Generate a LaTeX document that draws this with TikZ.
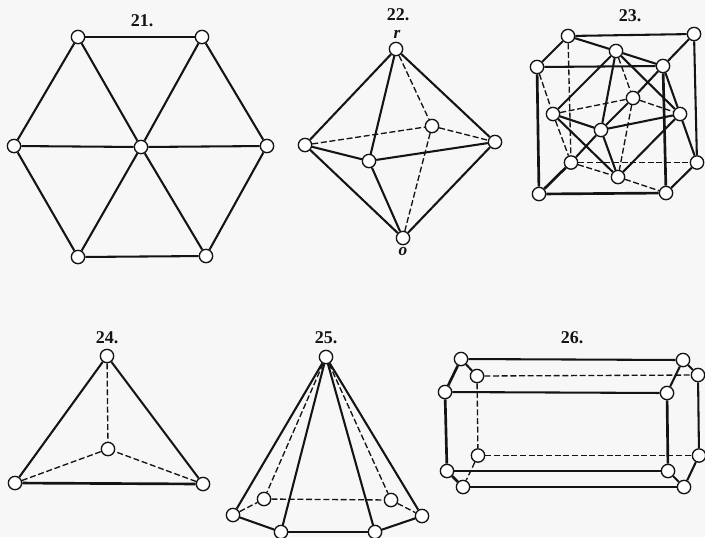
\documentclass[tikz,border=0pt]{standalone}
\usepackage{fontspec}
\usepackage{xcolor}
\usepackage{tikz}
\setmainfont{Liberation Serif}
\definecolor{paperwhite}{HTML}{F7F7F7}
\definecolor{inkdark}{HTML}{141414}

\begin{document}
\begin{tikzpicture}[
  x=0.75pt,y=-0.75pt,
  vertex/.style={circle,draw=inkdark,line width=1pt,fill=white,inner sep=0pt,minimum size=10pt},
  figlabel/.style={font=\fontsize{13.5}{15}\selectfont\bfseries,text=inkdark,inner sep=0pt},
  letterlabel/.style={font=\fontsize{13}{14}\selectfont\itshape\bfseries,text=inkdark,inner sep=0pt},
  edge/.style={line width=1.55pt,draw=inkdark},
  thickedge/.style={line width=2pt,draw=inkdark},
  hidden/.style={line width=1pt,draw=inkdark,dash pattern=on 4.5pt off 2pt}
]
\fill[paperwhite] (0,0) rectangle (705,537);
\useasboundingbox (0,0) rectangle (705,537);

% figure 21
\node[figlabel] (label21) at (142,21) {21.};
\node[vertex] (hextl) at (78,37) {};
\node[vertex] (hextr) at (202,37) {};
\node[vertex] (hexl) at (14,146) {};
\node[vertex] (hexc) at (141,147) {};
\node[vertex] (hexr) at (267,146) {};
\node[vertex] (hexbl) at (78,257) {};
\node[vertex] (hexbr) at (206,256) {};
\draw[edge] (hextl) -- (hextr);
\draw[edge] (hextr) -- (hexr);
\draw[edge] (hexr) -- (hexbr);
\draw[edge] (hexbr) -- (hexbl);
\draw[edge] (hexbl) -- (hexl);
\draw[edge] (hexl) -- (hextl);
\draw[edge] (hexc) -- (hextl);
\draw[edge] (hexc) -- (hextr);
\draw[edge] (hexc) -- (hexl);
\draw[edge] (hexc) -- (hexr);
\draw[edge] (hexc) -- (hexbl);
\draw[edge] (hexc) -- (hexbr);

% figure 22
\node[figlabel] (label22) at (398,15) {22.};
\node[letterlabel] (labelr) at (397,34) {r};
\node[letterlabel] (labelo) at (403,251) {o};
\node[vertex] (octr) at (396,49) {};
\node[vertex] (octl) at (305,145) {};
\node[vertex] (octe) at (495,142) {};
\node[vertex] (octf) at (369,161) {};
\node[vertex] (octb) at (432,126) {};
\node[vertex] (octo) at (403,238) {};
\draw[edge] (octr) -- (octl);
\draw[edge] (octr) -- (octe);
\draw[edge] (octr) -- (octf);
\draw[edge] (octl) -- (octf);
\draw[edge] (octf) -- (octe);
\draw[edge] (octl) -- (octo);
\draw[edge] (octf) -- (octo);
\draw[edge] (octe) -- (octo);
\draw[hidden] (octr) -- (octb);
\draw[hidden] (octl) -- (octb);
\draw[hidden] (octb) -- (octe);
\draw[hidden] (octb) -- (octo);

% figure 23
\node[figlabel] (label23) at (630,16) {23.};
\node[vertex] (cubeA) at (568,36) {};
\node[vertex] (cubeB) at (694,34) {};
\node[vertex] (cubeC) at (537,67) {};
\node[vertex] (cubeD) at (663,66) {};
\node[vertex] (cubeE) at (616,51) {};
\node[vertex] (cubeF) at (539,194) {};
\node[vertex] (cubeG) at (666,193) {};
\node[vertex] (cubeH) at (571,162.5) {};
\node[vertex] (cubeI) at (697,162.5) {};
\node[vertex] (cubeJ) at (618,177) {};
\node[vertex] (cubeK) at (553,114) {};
\node[vertex] (cubeL) at (680,114) {};
\node[vertex] (cubeM) at (601,130) {};
\node[vertex] (cubeN) at (633,98) {};
\draw[edge] (cubeA) -- (cubeB);
\draw[edge] (cubeA) -- (cubeC);
\draw[edge] (cubeC) -- (cubeD);
\draw[edge] (cubeD) -- (cubeB);
\draw[edge] (cubeB) -- (cubeI);
\draw[edge] (cubeG) -- (cubeI);
\draw[thickedge] (cubeC) -- (cubeF);
\draw[thickedge] (cubeD) -- (cubeG);
\draw[thickedge] (cubeF) -- (cubeG);
\draw[thickedge] (cubeF) -- (cubeH);
\draw[edge] (cubeH) -- (cubeM);
\draw[edge] (cubeM) -- (cubeN);
\draw[edge] (cubeN) -- (cubeD);
\draw[edge] (cubeA) -- (cubeE);
\draw[edge] (cubeE) -- (cubeD);
\draw[edge] (cubeD) -- (cubeL);
\draw[edge] (cubeL) -- (cubeI);
\draw[edge] (cubeE) -- (cubeK);
\draw[edge] (cubeE) -- (cubeL);
\draw[edge] (cubeE) -- (cubeM);
\draw[edge] (cubeK) -- (cubeM);
\draw[edge] (cubeM) -- (cubeL);
\draw[edge] (cubeK) -- (cubeJ);
\draw[edge] (cubeM) -- (cubeJ);
\draw[edge] (cubeL) -- (cubeJ);
\draw[hidden] (cubeA) -- (cubeH);
\draw[hidden] (cubeH) -- (cubeI);
\draw[hidden] (cubeH) -- (cubeJ);
\draw[hidden] (cubeJ) -- (cubeG);
\draw[hidden] (cubeC) -- (cubeK);
\draw[hidden] (cubeK) -- (cubeH);
\draw[hidden] (cubeE) -- (cubeN);
\draw[hidden] (cubeK) -- (cubeN);
\draw[hidden] (cubeN) -- (cubeL);
\draw[hidden] (cubeN) -- (cubeJ);

% figure 24
\node[figlabel] (label24) at (107,338) {24.};
\node[vertex] (tetrat) at (107,356) {};
\node[vertex] (tetral) at (15,483) {};
\node[vertex] (tetrar) at (203,484) {};
\node[vertex] (tetrac) at (108,449) {};
\draw[edge] (tetrat) -- (tetral);
\draw[edge] (tetrat) -- (tetrar);
\draw[thickedge] (tetral) -- (tetrar);
\draw[hidden] (tetrat) -- (tetrac);
\draw[hidden] (tetral) -- (tetrac);
\draw[hidden] (tetrar) -- (tetrac);

% figure 25
\node[figlabel] (label25) at (326,338) {25.};
\node[vertex] (pyrtop) at (326,357) {};
\node[vertex] (pyrl) at (233,515) {};
\node[vertex] (pyrfl) at (281,532) {};
\node[vertex] (pyrfr) at (375,532) {};
\node[vertex] (pyrr) at (422,516) {};
\node[vertex] (pyrbl) at (264,499) {};
\node[vertex] (pyrbr) at (391,500) {};
\draw[edge] (pyrtop) -- (pyrl);
\draw[edge] (pyrtop) -- (pyrfl);
\draw[edge] (pyrtop) -- (pyrfr);
\draw[edge] (pyrtop) -- (pyrr);
\draw[edge] (pyrl) -- (pyrfl);
\draw[thickedge] (pyrfl) -- (pyrfr);
\draw[edge] (pyrfr) -- (pyrr);
\draw[hidden] (pyrtop) -- (pyrbl);
\draw[hidden] (pyrtop) -- (pyrbr);
\draw[hidden] (pyrl) -- (pyrbl);
\draw[hidden] (pyrbl) -- (pyrbr);
\draw[hidden] (pyrbr) -- (pyrr);

% figure 26
\node[figlabel] (label26) at (572,338) {26.};
\node[vertex] (prisma) at (461,359) {};
\node[vertex] (prismb) at (477,376) {};
\node[vertex] (prismc) at (445,392) {};
\node[vertex] (prismd) at (683,360) {};
\node[vertex] (prisme) at (698,375) {};
\node[vertex] (prismf) at (667,393) {};
\node[vertex] (prismg) at (478,455.5) {};
\node[vertex] (prismh) at (447,471) {};
\node[vertex] (prismi) at (463,487) {};
\node[vertex] (prismj) at (699,455.5) {};
\node[vertex] (prismk) at (668,471) {};
\node[vertex] (prisml) at (684,487) {};
\draw[edge] (prisma) -- (prismd);
\draw[edge] (prisma) -- (prismb);
\draw[thickedge] (prisma) -- (prismc);
\draw[edge] (prismc) -- (prismf);
\draw[edge] (prismd) -- (prisme);
\draw[edge] (prismd) -- (prismf);
\draw[edge] (prisme) -- (prismj);
\draw[thickedge] (prismf) -- (prismk);
\draw[thickedge] (prismc) -- (prismh);
\draw[edge] (prismh) -- (prismk);
\draw[thickedge] (prismh) -- (prismi);
\draw[edge] (prismi) -- (prisml);
\draw[edge] (prismk) -- (prisml);
\draw[edge] (prismj) -- (prisml);
\draw[hidden] (prismb) -- (prisme);
\draw[hidden] (prismb) -- (prismg);
\draw[hidden] (prismg) -- (prismj);
\draw[hidden] (prismg) -- (prismi);
\end{tikzpicture}
\end{document}
